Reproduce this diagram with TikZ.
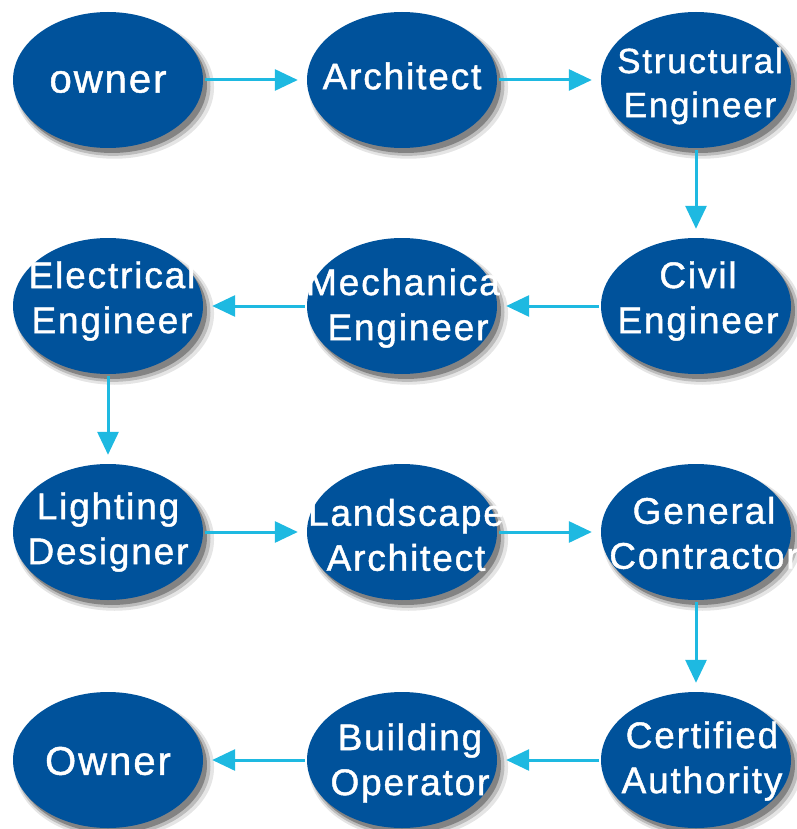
\documentclass[tikz,border=0pt]{standalone}
\usepackage{fontspec}
\setmainfont{Liberation Sans}
\newfontfamily\lblfont[LetterSpace=5,FakeBold=1.2]{Liberation Sans}
\usetikzlibrary{shapes.geometric,arrows.meta,shadows}
\definecolor{nodeblue}{RGB}{0,82,155}
\definecolor{arrowcyan}{RGB}{30,185,225}
\tikzset{
  bubble/.style={ellipse, fill=nodeblue, minimum width=190pt, minimum height=136pt, inner sep=0pt,
    drop shadow={shadow xshift=6pt, shadow yshift=-7pt, shadow scale=1.05, opacity=.10, fill=black},
    drop shadow={shadow xshift=5pt, shadow yshift=-6pt, shadow scale=1.025, opacity=.18, fill=black},
    drop shadow={shadow xshift=4pt, shadow yshift=-5pt, opacity=.30, fill=black}},
  label/.style={text=white, font=\lblfont\fontsize{37}{45}\selectfont, align=center, inner sep=0pt},
  biglabel/.style={label, font=\lblfont\fontsize{40}{48}\selectfont},
  arr/.style={draw=arrowcyan, line width=3pt, -{Triangle[length=23pt,width=21pt]}, shorten >=9pt, shorten <=2pt}
}
\begin{document}
\begin{tikzpicture}[x=1pt,y=-1pt]
\useasboundingbox (0,0) rectangle (796,829);
% ellipses
\node[bubble] (n1) at (108,80) {};
\node[bubble] (n2) at (402,80) {};
\node[bubble] (n3) at (696,80) {};
\node[bubble] (n4) at (696,306) {};
\node[bubble] (n5) at (402,306) {};
\node[bubble] (n6) at (108,306) {};
\node[bubble] (n7) at (108,532) {};
\node[bubble] (n8) at (402,532) {};
\node[bubble] (n9) at (696,532) {};
\node[bubble] (n10) at (696,760) {};
\node[bubble] (n11) at (402,760) {};
\node[bubble] (n12) at (108,760) {};
% texts
\node[biglabel] (t1) at (108,82) {owner};
\node[label] (t2) at (402,76) {Architect};
\node[label, font=\lblfont\fontsize{35}{44}\selectfont] (t3) at (700,86) {Structural\\Engineer};
\node[label] (t4) at (698,301) {Civil\\Engineer};
\node[label] (t5) at (408,308) {Mechanical\\Engineer};
\node[label] (t6) at (112,301) {Electrical\\Engineer};
\node[label] (t7) at (108,532) {Lighting\\Designer};
\node[label] (t8) at (406,535) {Landscape\\Architect};
\node[label] (t9) at (704,533) {General\\Contractor};
\node[label] (t10) at (702,761) {Certified\\Authority};
\node[label] (t11) at (410,763) {Building\\Operator};
\node[biglabel] (t12) at (108,761) {Owner};
% arrows
\draw[arr] (n1) -- (n2);
\draw[arr] (n2) -- (n3);
\draw[arr] (n3) -- (n4);
\draw[arr] (n4) -- (n5);
\draw[arr] (n5) -- (n6);
\draw[arr] (n6) -- (n7);
\draw[arr] (n7) -- (n8);
\draw[arr] (n8) -- (n9);
\draw[arr] (n9) -- (n10);
\draw[arr] (n10) -- (n11);
\draw[arr] (n11) -- (n12);
\end{tikzpicture}
\end{document}
